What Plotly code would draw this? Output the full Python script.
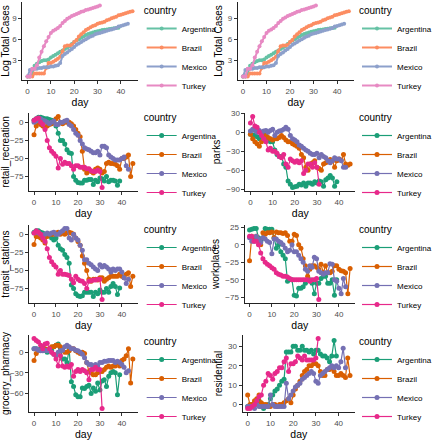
import plotly.graph_objects as go

countries = ["Argentina", "Brazil", "Mexico", "Turkey"]
set2 = ["#66C2A5", "#FC8D62", "#8DA0CB", "#E78AC3"]
dark2 = ["#1B9E77", "#D95F02", "#7570B3", "#E7298A"]

day_arg = list(range(40))
day_bra = list(range(46))
day_mex = list(range(44))
day_tur = list(range(32))

logcases_arg = [0.69, 0.69, 1.1, 2.2, 2.5, 2.7, 2.9, 3.0, 3.0, 3.1, 3.4, 3.6, 3.8, 4.0, 4.2, 4.4, 4.6, 4.8, 5.0, 5.3,
                5.6, 5.8, 6.0, 6.2, 6.4, 6.6, 6.75, 6.85, 6.95, 7.05, 7.15, 7.2, 7.3, 7.35, 7.4, 7.45, 7.5, 7.55, 7.6, 7.65]
logcases_bra = [0.69, 0.69, 0.69, 1.1, 1.1, 1.1, 1.1, 1.1, 1.9, 2.6, 2.6, 2.8, 3.0, 3.2, 3.5, 4.3, 5.0, 5.1, 5.1, 5.2,
                5.6, 5.9, 6.4, 6.7, 7.0, 7.3, 7.5, 7.7, 7.9, 8.0, 8.2, 8.3, 8.4, 8.5, 8.7, 8.8, 9.0, 9.1, 9.2, 9.4,
                9.5, 9.6, 9.7, 9.8, 9.9, 10.0]
logcases_mex = [0.69, 1.6, 1.7, 1.8, 1.8, 1.9, 1.9, 2.0, 2.0, 2.0, 2.1, 2.1, 2.2, 2.3, 2.6, 3.6, 3.9, 4.1, 4.4, 4.6,
                4.9, 5.2, 5.4, 5.6, 5.8, 6.0, 6.2, 6.4, 6.5, 6.7, 6.8, 6.9, 7.0, 7.1, 7.2, 7.3, 7.4, 7.5, 7.6, 7.8,
                7.9, 8.0, 8.1, 8.2]
logcases_tur = [0.69, 0.69, 1.8, 1.8, 2.3, 3.4, 4.2, 5.0, 5.7, 6.3, 6.9, 7.2, 7.4, 7.6, 7.9, 8.3, 8.6, 8.9, 9.1, 9.3,
                9.45, 9.6, 9.75, 9.9, 10.0, 10.15, 10.25, 10.35, 10.45, 10.55, 10.65, 10.8]

retail_arg = [3, 5, 7, 7, 6, 5, 5, 4, 3, 2, -5, -15, -25, -25, -30, -38, -42, -43, -75, -80,
              -83, -84, -84, -80, -80, -79, -79, -86, -80, -82, -77, -78, -81, -75, -82, -80, -80, -81, -87, -81]
retail_bra = [-17, -5, 0, -3, -5, -8, -5, -3, -2, 0, 5, 8, 0, -2, 0, 0, 0, -2, -5, -10,
              -15, -20, -40, -65, -70, -65, -68, -70, -65, -63, -65, -70, -68, -57, -55, -57, -57, -58, -60, -65,
              -50, -50, -48, -45, -75, -57]
retail_mex = [0, 2, 3, 5, 3, 2, 0, -2, 0, 2, -3, -3, 0, 0, 2, 3, -3, -5, -10, -15,
              -18, -25, -30, -35, -37, -38, -40, -42, -42, -40, -45, -33, -33, -35, -45, -48, -50, -52, -52, -52,
              -50, -48, -60, -65]
retail_tur = [3, 5, 6, 0, -3, -10, -25, -35, -40, -43, -47, -63, -50, -58, -55, -57, -57, -60, -65, -60,
              -60, -62, -62, -62, -64, -64, -67, -68, -68, -66, -68, -90]

parks_arg = [-3, -4, -5, -7, -10, -5, -3, -10, -12, -15, -15, -28, -35, -38, -38, -50, -55, -77, -82, -87,
             -86, -85, -82, -83, -80, -85, -80, -80, -82, -78, -80, -77, -78, -85, -75, -72, -68, -72, -85, -78]
parks_bra = [-3, -10, -15, -18, -22, -15, -10, -5, -8, -10, -12, -10, -10, -8, -5, -8, -12, -15, -15, -18,
             -20, -22, -25, -35, -40, -55, -60, -50, -48, -45, -55, -57, -60, -50, -48, -45, -43, -45, -55, -45,
             -42, -44, -35, -50, -52, -50]
parks_mex = [2, 5, 3, 0, 3, 0, 2, 3, 0, 3, 5, -5, 0, 2, 3, 5, 8, 5, -5, -10,
             -12, -15, -20, -22, -25, -28, -30, -33, -35, -35, -33, -40, -35, -38, -40, -45, -48, -45, -40, -42,
             -42, -45, -55, -55]
parks_tur = [15, 25, 10, 8, 0, -5, -10, -15, -28, -25, -30, -30, -33, -38, -40, -35, -50, -55, -42, -45,
             -47, -45, -48, -45, -65, -60, -50, -50, -55, -48, -55, -82]

transit_arg = [3, 5, 5, 3, 2, -3, 0, -2, -5, -8, -5, -15, -20, -22, -28, -32, -40, -70, -75, -82,
               -85, -86, -85, -80, -80, -80, -80, -86, -80, -82, -77, -80, -80, -75, -80, -72, -68, -72, -83, -74]
transit_bra = [-14, -3, -3, -5, -8, -12, -3, 0, 0, 0, 2, 3, 0, 2, 0, 2, 3, 2, 0, -5,
               -10, -15, -30, -40, -50, -62, -65, -62, -62, -63, -60, -60, -65, -62, -60, -58, -58, -58, -58, -55,
               -58, -60, -55, -53, -72, -58]
transit_mex = [2, 3, 2, 0, -3, 0, 2, 0, 2, 3, 0, 0, 3, 5, 8, 8, -5, -8, 0, -5,
               -8, -15, -22, -35, -35, -40, -42, -45, -48, -50, -42, -45, -43, -45, -48, -52, -48, -50, -48, -48,
               -52, -60, -68, -62]
transit_tur = [2, 5, 3, 0, -5, -10, -20, -32, -38, -42, -45, -55, -50, -55, -55, -56, -57, -62, -67, -58,
               -62, -64, -65, -68, -75, -65, -64, -63, -63, -62, -62, -90]

work_arg = [21, 22, 23, 23, 10, 5, 10, 23, 22, 22, 22, 10, -5, 0, -10, -15, -20, -52, -50, -50,
            -72, -73, -62, -62, -60, -55, -50, -50, -55, -70, -55, -55, -48, -45, -45, -55, -55, -50, -72, -50]
work_bra = [-23, 12, 10, 12, 5, 0, 17, 15, 17, 17, 18, 10, 18, 17, 17, 16, 17, 13, 5, 5,
            15, 13, 0, -5, -20, -30, -45, -35, -30, -30, -32, -35, -28, -40, -30, -40, -40, -38, -30, -30,
            -35, -37, -38, -40, -70, -34]
work_mex = [10, 5, 5, 12, 8, 3, 10, 8, 5, 3, -13, 8, 8, 5, 3, 0, -5, -10, -8, 0,
            -10, -10, -15, -20, -25, -35, -38, -30, -32, -18, -20, -38, -40, -42, -40, -40, -27, -28, -50, -52,
            -62, -70, -48, -60]
work_tur = [12, 12, 5, 5, 0, -12, -20, -25, -28, -30, -33, -35, -40, -42, -43, -45, -45, -46, -48, -50,
            -50, -50, -50, -50, -50, -50, -50, -52, -50, -50, -48, -78]

groc_arg = [5, 5, 3, 5, 8, 3, 0, 5, 3, 8, 10, 12, 5, -10, -10, -15, 5, -43, -50, -62,
            -65, -65, -52, -53, -50, -48, -60, -52, -57, -45, -55, -42, -40, -50, -35, -30, -28, -30, -62, -33]
groc_bra = [-12, -2, 2, 3, 3, 5, 3, 5, 8, 8, 10, 10, 8, 5, 0, 0, 2, 5, 5, 2,
            0, -2, 0, -2, -15, -28, -30, -33, -33, -30, -28, -28, -25, -22, -20, -22, -20, -20, -15, -20,
            -12, -10, -5, 5, -45, -10]
groc_mex = [5, 5, 3, 2, 2, 3, 2, 3, 0, -3, -5, 0, 2, 3, 8, 10, 8, 5, 5, 3,
            2, 0, -3, -8, -15, -18, -18, -20, -18, -20, -15, -15, -13, -13, -12, -12, -12, -15, -13, -15,
            -18, -22, -30, -27]
groc_tur = [20, 17, 15, 10, 5, 12, 13, 5, 0, -3, -10, -20, -5, -20, -22, -20, -22, -18, -35, -28,
            -25, -28, -25, -27, -30, -40, -25, -25, -22, -25, -25, -82]

resid_arg = [-1, -1, 0, 1, 1, 2, -1, -2, -1, 0, 3, 5, 7, 8, 10, 12, 13, 27, 27, 27,
             30, 30, 28, 28, 30, 28, 28, 27, 28, 26, 28, 28, 26, 25, 25, 24, 22, 25, 33, 25]
resid_bra = [5, 0, 0, 2, 3, 5, 1, 0, 0, -1, -1, 0, 0, -1, 0, 0, 1, 2, 3, 1,
             5, 8, 10, 12, 15, 17, 18, 20, 20, 21, 21, 20, 17, 15, 15, 18, 18, 19, 17, 15,
             15, 16, 15, 14, 24, 15]
resid_mex = [-1, -1, -1, -2, 0, -1, -1, -1, -1, -1, 5, 0, -1, -1, -1, -1, -1, 11, 3, 5,
             7, 9, 10, 11, 13, 14, 15, 16, 17, 16, 12, 11, 15, 16, 17, 18, 19, 20, 19, 20,
             19, 22, 29, 19]
resid_tur = [-2, -2, -1, 0, 2, 4, 5, 10, 12, 16, 15, 13, 16, 17, 19, 19, 22, 24, 17, 21,
             21, 22, 25, 24, 23, 25, 23, 23, 23, 23, 24, 34]

days = [day_arg, day_bra, day_mex, day_tur]

panels = [
    ("Log Total Cases", [logcases_arg, logcases_bra, logcases_mex, logcases_tur], set2, [3, 6, 9]),
    ("Log Total Cases", [logcases_arg, logcases_bra, logcases_mex, logcases_tur], set2, [3, 6, 9]),
    ("retail_recreation", [retail_arg, retail_bra, retail_mex, retail_tur], dark2, [0, -25, -50, -75]),
    ("parks", [parks_arg, parks_bra, parks_mex, parks_tur], dark2, [30, 0, -30, -60, -90]),
    ("transit_stations", [transit_arg, transit_bra, transit_mex, transit_tur], dark2, [0, -25, -50, -75]),
    ("workplaces", [work_arg, work_bra, work_mex, work_tur], dark2, [25, 0, -25, -50, -75]),
    ("grocery_pharmacy", [groc_arg, groc_bra, groc_mex, groc_tur], dark2, [0, -30, -60]),
    ("residential", [resid_arg, resid_bra, resid_mex, resid_tur], dark2, [0, 10, 20, 30]),
]

W, H = 437, 440
MB = 12  # bottom margin so the last row's "day" titles have room
PH = H - MB
# plot-area boxes in pixels (left, right, top, bottom)
boxes = [
    (23, 142, 2, 80), (245, 365, 2, 80),
    (30, 142, 113, 191), (253, 366, 113, 191),
    (30, 142, 225, 303), (252, 366, 225, 303),
    (30, 142, 335, 412), (250, 366, 335, 412),
]
legend_pos = [(146, 1), (368, 1), (146, 108), (368, 108), (146, 220), (368, 220), (146, 332), (368, 332)]


def py(y):
    return (PH - y) / PH


FONT = "Liberation Sans, Arial, sans-serif"
fig = go.Figure()
layout = dict(
    width=W, height=H, margin=dict(l=0, r=0, t=0, b=MB),
    paper_bgcolor="white", plot_bgcolor="white",
    font=dict(family=FONT, color="black"),
    hovermode=False,
)

for i, (ytitle, series, pal, ticks) in enumerate(panels):
    k = i + 1
    sfx = "" if k == 1 else str(k)
    leg = "legend" + sfx
    top_row = i < 2
    for c, name in enumerate(countries):
        fig.add_trace(go.Scatter(
            x=days[c], y=series[c], mode="lines+markers", name=name,
            line=dict(color=pal[c], width=2.0 if top_row else 1.2),
            marker=dict(color=pal[c], size=4 if top_row else 5),
            xaxis="x" + sfx, yaxis="y" + sfx, legend=leg, showlegend=True,
        ))
    l, r, t, b = boxes[i]
    allv = [v for s in series for v in s]
    lo, hi = min(allv), max(allv)
    pad = 0.05 * (hi - lo)
    axis_common = dict(
        showline=True, linecolor="#222222", linewidth=1, showgrid=False, zeroline=False,
        ticks="outside", ticklen=3, tickwidth=1, tickcolor="#333333",
        tickfont=dict(size=8, color="#4D4D4D", family=FONT), automargin=False,
    )
    layout["xaxis" + sfx] = dict(
        axis_common, domain=[l / W, r / W], anchor="y" + sfx, range=[-2.25, 47.25],
        tickvals=[0, 10, 20, 30, 40],
        title=dict(text="day", font=dict(size=10.5, family=FONT), standoff=1),
    )
    layout["yaxis" + sfx] = dict(
        axis_common, domain=[py(b), py(t)], anchor="x" + sfx, range=[lo - pad, hi + pad],
        tickvals=ticks,
        title=dict(text=ytitle, font=dict(size=10, family=FONT), standoff=3),
    )
    lx, ly = legend_pos[i]
    layout[leg] = dict(
        x=lx / W, xanchor="left", y=py(ly), yanchor="top",
        title=dict(text="country", font=dict(size=10, family=FONT)),
        font=dict(size=8, family=FONT, color="black"),
        bgcolor="rgba(0,0,0,0)", itemwidth=30, tracegroupgap=0,
    )

fig.update_layout(**layout)
fig.write_html("out.html", config={"displayModeBar": False, "staticPlot": True},
               post_script="document.body.style.margin='0px';")
